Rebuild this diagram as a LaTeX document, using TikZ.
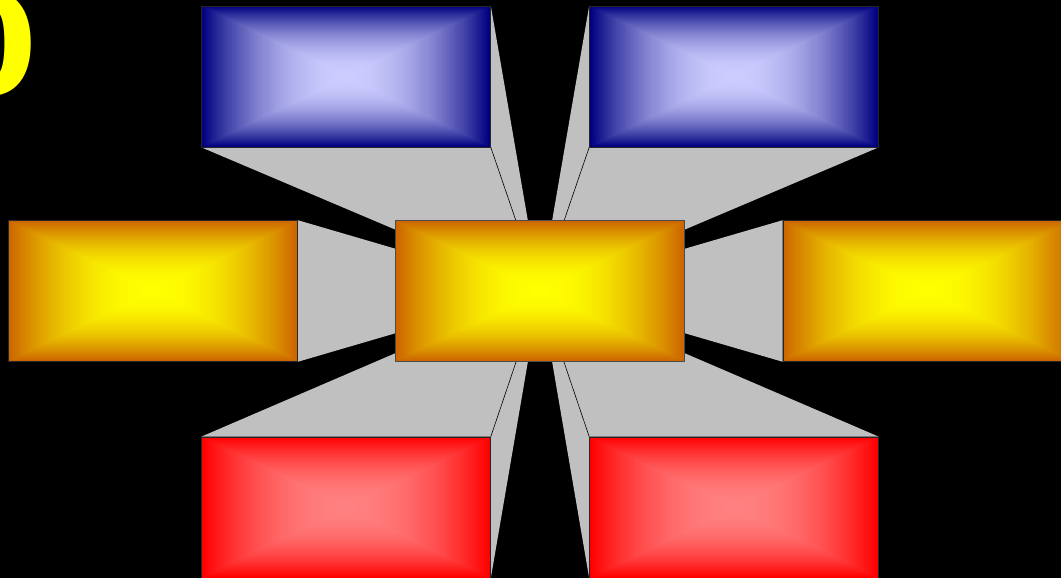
\documentclass[tikz,border=0pt]{standalone}
\usepackage{fontspec}
\setmainfont{DejaVu Sans}
\usetikzlibrary{calc}
\definecolor{navyedge}{RGB}{0,0,128}
\definecolor{bluecore}{RGB}{204,204,255}
\definecolor{orangeedge}{RGB}{204,102,0}
\definecolor{yellowcore}{RGB}{255,255,0}
\definecolor{rededge}{RGB}{255,0,0}
\definecolor{redcore}{RGB}{255,128,128}
\definecolor{facegray}{RGB}{192,192,192}
\tikzset{
  pyr/.style 2 args={
    fill=#1,
    path picture={
      \foreach \i in {0,...,69} {
        \pgfmathsetmacro\sc{1-\i/70}
        \pgfmathsetmacro\pc{100*(1-(1-\i/69)^2)}
        \fill[#2!\pc!#1]
          ($(path picture bounding box.center)!\sc!(path picture bounding box.north west)$)
          rectangle
          ($(path picture bounding box.center)!\sc!(path picture bounding box.south east)$);
      }
    }},
  panel/.style={rectangle, inner sep=0pt, minimum width=289pt, minimum height=141pt,
    draw=black!85, line width=0.6pt},
  bluebox/.style={panel, pyr={navyedge}{bluecore}},
  orangebox/.style={panel, pyr={orangeedge}{yellowcore}},
  redbox/.style={panel, pyr={rededge}{redcore}},
  face/.style={fill=facegray},
  ridge/.style={draw=black, line width=0.6pt},
}
\begin{document}
\begin{tikzpicture}[x=1pt,y=1pt]
\useasboundingbox (0,0) rectangle (1061,578);
\fill[black] (0,0) rectangle (1061,578);
\clip (0,0) rectangle (1061,578);
\coordinate (C) at (540,287);
\path (346,501.5) coordinate (tlc) (734,501.5) coordinate (trc)
      (153,287) coordinate (mlc) (927.5,287) coordinate (mrc)
      (346,70.5) coordinate (blc) (734,70.5) coordinate (brc);
\node[panel, draw=none] (tl0) at (tlc) {};
\node[panel, draw=none] (tr0) at (trc) {};
\node[panel, draw=none] (ml0) at (mlc) {};
\node[panel, draw=none] (mr0) at (mrc) {};
\node[panel, draw=none] (bl0) at (blc) {};
\node[panel, draw=none] (br0) at (brc) {};
% connector faces
\fill[face] (tl0.north east) -- (C) -- (tl0.south west) -- (tl0.south east) -- cycle;
\fill[face] (tr0.north west) -- (C) -- (tr0.south east) -- (tr0.south west) -- cycle;
\fill[face] (bl0.south east) -- (C) -- (bl0.north west) -- (bl0.north east) -- cycle;
\fill[face] (br0.south west) -- (C) -- (br0.north east) -- (br0.north west) -- cycle;
\fill[face] (ml0.north east) -- (C) -- (ml0.south east) -- cycle;
\fill[face] (mr0.north west) -- (C) -- (mr0.south west) -- cycle;
\draw[ridge] (tl0.south east) -- (C);
\draw[ridge] (tr0.south west) -- (C);
\draw[ridge] (bl0.north east) -- (C);
\draw[ridge] (br0.north west) -- (C);
% boxes
\node[bluebox] (tl) at (tlc) {};
\node[bluebox] (tr) at (trc) {};
\node[orangebox] (ml) at (mlc) {};
\node[orangebox] (mr) at (mrc) {};
\node[redbox] (bl) at (blc) {};
\node[redbox] (br) at (brc) {};
\node[orangebox, draw=black!70] (center) at (C) {};
% number
\node[anchor=base east, inner sep=0pt, text=yellowcore,
      font=\fontsize{140}{140}\selectfont\bfseries] (num) at (38,483) {0};
\end{tikzpicture}
\end{document}
